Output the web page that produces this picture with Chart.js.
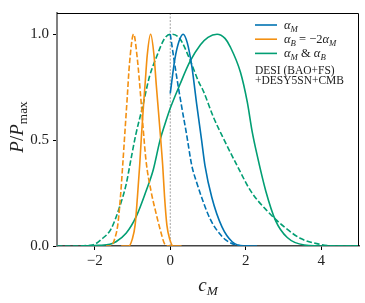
<!DOCTYPE html>
<html>
<head>
<meta charset="utf-8">
<script src="https://cdn.jsdelivr.net/npm/chart.js@4.4.1/dist/chart.umd.min.js"></script>
<style>
  html, body { margin: 0; padding: 0; background: #fff; }
</style>
</head>
<body>
<canvas id="chart" width="365" height="303"></canvas>
<script>
// posteriors (normalised to the peak)
const alphaMSolidX = [0, 0.12, 0.23, 0.34, 0.45, 0.57, 0.70, 0.83, 0.92, 1.10, 1.37, 1.64, 1.95, 2.3];
const alphaMSolidY = [0.72, 0.88, 0.965, 1.0, 0.96, 0.85, 0.67, 0.50, 0.38, 0.23, 0.09, 0.02, 0.0, 0.0];

const alphaMDashX = [0, 0.16, 0.30, 0.43, 0.57, 0.70, 0.83, 1.0, 1.14, 1.30, 1.46, 1.75, 2.1];
const alphaMDashY = [1.0, 0.81, 0.66, 0.53, 0.38, 0.30, 0.23, 0.15, 0.10, 0.06, 0.03, 0.005, 0.0];

const alphaBSolidX = [-1.3, -1.1, -1.01, -0.93, -0.87, -0.81, -0.76, -0.71, -0.66, -0.61, -0.52, -0.43, -0.37, -0.31, -0.26, -0.20, -0.15, -0.09, -0.01, 0.08, 0.3];
const alphaBSolidY = [0.0, 0.0, 0.03, 0.10, 0.23, 0.38, 0.53, 0.66, 0.78, 0.90, 1.0, 0.90, 0.76, 0.63, 0.52, 0.38, 0.23, 0.10, 0.03, 0.0, 0.0];

const alphaBDashX = [-1.7, -1.57, -1.48, -1.39, -1.32, -1.26, -1.20, -1.14, -1.08, -0.97, -0.87, -0.79, -0.72, -0.64, -0.51, -0.37, -0.24, -0.15, -0.05, 0.1];
const alphaBDashY = [0.0, 0.0, 0.03, 0.10, 0.23, 0.38, 0.54, 0.70, 0.86, 1.0, 0.88, 0.72, 0.56, 0.40, 0.26, 0.15, 0.06, 0.01, 0.0, 0.0];

const bothSolidX = [-2.3, -1.9, -1.6, -1.44, -1.17, -0.9, -0.64, -0.45, -0.27, -0.15, 0, 0.25, 0.52, 0.8, 1.0, 1.24, 1.45, 1.59, 1.86, 2.04, 2.17, 2.3, 2.53, 2.79, 3.1, 3.55, 4.2, 5];
const bothSolidY = [0.0, 0.003, 0.008, 0.02, 0.06, 0.14, 0.26, 0.36, 0.50, 0.57, 0.65, 0.76, 0.87, 0.95, 0.985, 1.0, 0.98, 0.94, 0.82, 0.68, 0.54, 0.43, 0.26, 0.12, 0.04, 0.005, 0.0, 0.0];

const bothDashX = [-3, -2.6, -2.06, -1.8, -1.57, -1.35, -1.17, -1.04, -0.92, -0.73, -0.55, -0.37, -0.15, 0, 0.25, 0.52, 0.74, 0.88, 1.14, 1.43, 1.77, 2.13, 2.57, 3.02, 3.46, 3.91, 4.4, 5];
const bothDashY = [0.0, 0.0, 0.005, 0.035, 0.08, 0.18, 0.29, 0.41, 0.52, 0.66, 0.80, 0.89, 0.98, 1.0, 0.98, 0.88, 0.78, 0.73, 0.61, 0.50, 0.38, 0.26, 0.165, 0.09, 0.035, 0.01, 0.0, 0.0];

const xTicks = [-2, 0, 2, 4];
const yTicks = [0, 0.5, 1.0];
const xRange = [-3, 5];
const yRange = [0, 1.1];
const refLineX = 0;

const BLUE = "#0173b2";
const ORANGE = "#f39012";
const GREEN = "#029e73";
const SERIF = '"Liberation Serif", "DejaVu Serif", serif';

function points(xs, ys) {
  return xs.map((x, i) => ({ x, y: ys[i] }));
}

function curve(xs, ys, color, dashed) {
  return {
    data: points(xs, ys),
    borderColor: color,
    borderWidth: 1.6,
    borderDash: dashed ? [5.5, 2.4] : [],
    pointRadius: 0,
    fill: false,
    cubicInterpolationMode: "monotone",
  };
}

// rich text: parts = [{t, it, sub}]
function richWidth(ctx, parts, size) {
  let w = 0;
  for (const p of parts) {
    const fs = p.sub ? size * 0.7 : size;
    ctx.font = `${p.it ? "italic " : ""}${fs}px ${SERIF}`;
    w += ctx.measureText(p.t).width;
  }
  return w;
}

function drawRich(ctx, parts, x, y, size) {
  let cx = x;
  ctx.textBaseline = "alphabetic";
  ctx.textAlign = "left";
  for (const p of parts) {
    const fs = p.sub ? size * 0.7 : size;
    ctx.font = `${p.it ? "italic " : ""}${fs}px ${SERIF}`;
    ctx.fillText(p.t, cx, y + (p.sub ? size * 0.22 : 0));
    cx += ctx.measureText(p.t).width;
  }
}

const legendItems = [
  { color: BLUE, parts: [{ t: "α", it: true }, { t: "M", it: true, sub: true }] },
  { color: ORANGE, parts: [{ t: "α", it: true }, { t: "B", it: true, sub: true }, { t: " = −2" }, { t: "α", it: true }, { t: "M", it: true, sub: true }] },
  { color: GREEN, parts: [{ t: "α", it: true }, { t: "M", it: true, sub: true }, { t: " & " }, { t: "α", it: true }, { t: "B", it: true, sub: true }] },
];

const overlay = {
  id: "overlay",
  beforeDatasetsDraw(chart) {
    const { ctx, chartArea: a, scales } = chart;
    const px = scales.x.getPixelForValue(refLineX);
    ctx.save();
    ctx.strokeStyle = "#8a8a8a";
    ctx.lineWidth = 0.8;
    ctx.setLineDash([2, 1.5]);
    ctx.beginPath();
    ctx.moveTo(px, a.top);
    ctx.lineTo(px, a.bottom);
    ctx.stroke();
    ctx.restore();
  },
  afterDraw(chart) {
    const { ctx, chartArea: a } = chart;
    ctx.save();
    // top and right spines
    ctx.strokeStyle = "#000";
    ctx.lineWidth = 1;
    ctx.beginPath();
    ctx.moveTo(a.left, a.top + 0.5);
    ctx.lineTo(a.right - 0.5, a.top + 0.5);
    ctx.lineTo(a.right - 0.5, a.bottom);
    ctx.stroke();

    ctx.fillStyle = "#222";
    // x title
    const xt = [{ t: "c", it: true }, { t: "M", it: true, sub: true }];
    const xw = richWidth(ctx, xt, 19);
    drawRich(ctx, xt, (a.left + a.right) / 2 - xw / 2, 291, 19);

    // y title
    const yt = [{ t: "P", it: true }, { t: "/" }, { t: "P", it: true }, { t: "max", sub: true }];
    const yw = richWidth(ctx, yt, 19);
    ctx.save();
    ctx.translate(23, 127);
    ctx.rotate(-Math.PI / 2);
    drawRich(ctx, yt, -yw / 2, 0, 19);
    ctx.restore();

    // legend
    legendItems.forEach((item, i) => {
      const y = 25 + i * 14.2;
      ctx.strokeStyle = item.color;
      ctx.lineWidth = 1.6;
      ctx.beginPath();
      ctx.moveTo(255, y);
      ctx.lineTo(277, y);
      ctx.stroke();
      ctx.fillStyle = "#222";
      drawRich(ctx, item.parts, 284, y + 3.8, 12.5);
    });
    ctx.fillStyle = "#222";
    ctx.font = `11.5px ${SERIF}`;
    ctx.fillText("DESI (BAO+FS)", 255, 74);
    ctx.fillText("+DESY5SN+CMB", 255, 84);
    ctx.restore();
  },
};

new Chart(document.getElementById("chart"), {
  type: "line",
  data: {
    datasets: [
      curve(alphaMSolidX, alphaMSolidY, BLUE, false),
      curve(alphaMDashX, alphaMDashY, BLUE, true),
      curve(alphaBSolidX, alphaBSolidY, ORANGE, false),
      curve(alphaBDashX, alphaBDashY, ORANGE, true),
      curve(bothSolidX, bothSolidY, GREEN, false),
      curve(bothDashX, bothDashY, GREEN, true),
    ],
  },
  options: {
    responsive: false,
    animation: false,
    devicePixelRatio: 1,
    layout: { padding: { top: 7, right: 6, left: 0, bottom: 0 } },
    plugins: { legend: { display: false }, tooltip: { enabled: false } },
    scales: {
      x: {
        type: "linear",
        min: xRange[0],
        max: xRange[1],
        afterBuildTicks: (scale) => {
          scale.ticks = xTicks.map((v) => ({ value: v }));
        },
        afterFit: (scale) => {
          scale.height = 57;
        },
        ticks: {
          color: "#222",
          font: { family: SERIF, size: 15 },
          padding: 2,
          maxRotation: 0,
          callback: (v) => (v < 0 ? "−" + Math.abs(v) : String(v)),
        },
        grid: { drawOnChartArea: false, drawTicks: true, tickLength: 4, color: "#000" },
        border: { display: true, color: "#444", width: 1.5 },
      },
      y: {
        min: yRange[0],
        max: yRange[1],
        afterBuildTicks: (scale) => {
          scale.ticks = yTicks.map((v) => ({ value: v }));
        },
        afterFit: (scale) => {
          scale.width = 57;
        },
        ticks: {
          color: "#222",
          font: { family: SERIF, size: 15 },
          padding: 4,
          callback: (v) => v.toFixed(1),
        },
        grid: { drawOnChartArea: false, drawTicks: true, tickLength: 4, color: "#000" },
        border: { display: true, color: "#808080", width: 2 },
      },
    },
  },
  plugins: [overlay],
});
</script>
</body>
</html>
